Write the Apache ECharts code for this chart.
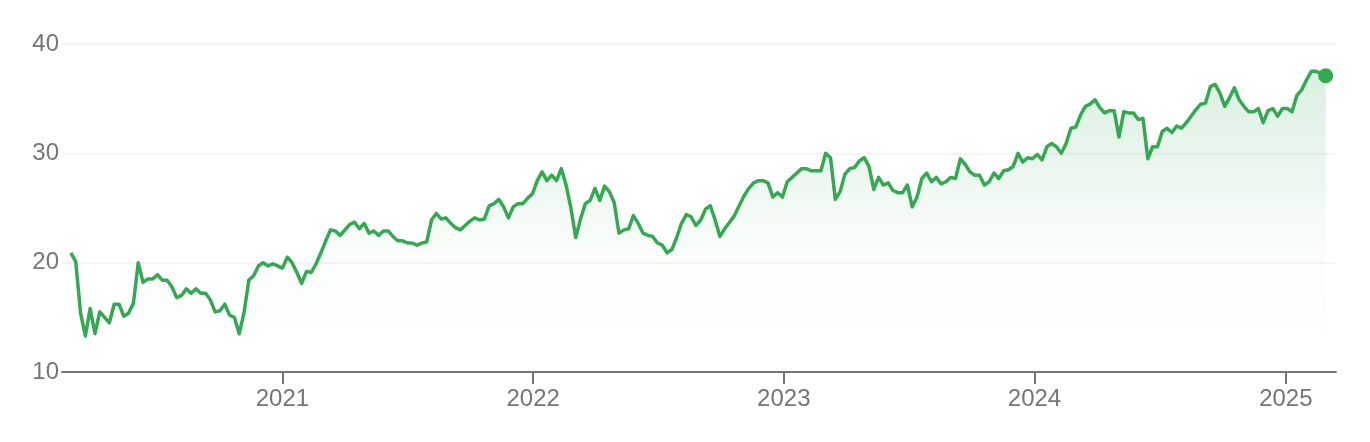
<!DOCTYPE html>
<html>
<head>
<meta charset="utf-8">
<script src="https://cdn.jsdelivr.net/npm/echarts@6/dist/echarts.min.js"></script>
<style>
html,body{margin:0;padding:0;background:#fff;}
#chart{width:1370px;height:442px;}
</style>
</head>
<body>
<div id="chart"></div>
<script>
// Weekly closing values, starting on the first week below
const firstWeek = [2020, 1, 28]; // year, monthIndex, day
const values = [
  20.9, 20.1, 15.4, 13.3, 15.8, 13.5, 15.5, 15.0, 14.5, 16.2,
  16.2, 15.1, 15.4, 16.3, 20.0, 18.2, 18.5, 18.5, 18.9, 18.4,
  18.4, 17.8, 16.8, 17.0, 17.6, 17.2, 17.6, 17.2, 17.2, 16.6,
  15.5, 15.6, 16.2, 15.2, 15.0, 13.5, 15.4, 18.4, 18.8, 19.7,
  20.0, 19.7, 19.9, 19.7, 19.5, 20.5, 20.0, 19.1, 18.1, 19.2,
  19.1, 19.9, 20.9, 22.0, 23.0, 22.9, 22.5, 23.0, 23.5, 23.7,
  23.1, 23.6, 22.7, 22.9, 22.5, 22.9, 22.9, 22.4, 22.0, 22.0,
  21.8, 21.8, 21.6, 21.8, 21.9, 23.9, 24.5, 24.0, 24.1, 23.6,
  23.2, 23.0, 23.4, 23.8, 24.1, 23.9, 24.0, 25.2, 25.4, 25.8,
  25.1, 24.1, 25.1, 25.4, 25.4, 25.9, 26.3, 27.5, 28.3, 27.5,
  28.0, 27.5, 28.6, 27.1, 25.0, 22.3, 24.0, 25.4, 25.7, 26.8,
  25.7, 27.0, 26.5, 25.5, 22.7, 23.0, 23.1, 24.3, 23.6, 22.7,
  22.5, 22.4, 21.8, 21.6, 20.9, 21.2, 22.3, 23.6, 24.4, 24.2,
  23.4, 23.9, 24.9, 25.2, 23.9, 22.4, 23.1, 23.7, 24.3, 25.2,
  26.1, 26.8, 27.3, 27.5, 27.5, 27.3, 26.0, 26.4, 26.0, 27.4,
  27.8, 28.2, 28.6, 28.6, 28.4, 28.4, 28.4, 30.0, 29.6, 25.8,
  26.5, 28.1, 28.6, 28.7, 29.3, 29.6, 28.8, 26.7, 27.8, 27.1,
  27.3, 26.6, 26.4, 26.4, 27.1, 25.1, 26.0, 27.7, 28.2, 27.4,
  27.8, 27.2, 27.4, 27.8, 27.7, 29.5, 29.0, 28.3, 28.0, 28.0,
  27.1, 27.4, 28.2, 27.7, 28.4, 28.5, 28.8, 30.0, 29.2, 29.6,
  29.5, 29.9, 29.4, 30.6, 30.9, 30.6, 30.0, 30.9, 32.3, 32.4,
  33.5, 34.3, 34.5, 34.9, 34.2, 33.7, 33.9, 33.9, 31.5, 33.8,
  33.7, 33.7, 33.1, 33.2, 29.5, 30.6, 30.6, 32.0, 32.3, 31.9,
  32.5, 32.3, 32.8, 33.4, 34.0, 34.5, 34.6, 36.1, 36.3, 35.5,
  34.3, 35.1, 36.0, 34.9, 34.3, 33.8, 33.8, 34.1, 32.8, 33.9,
  34.1, 33.4, 34.1, 34.1, 33.8, 35.3, 35.8, 36.7, 37.5, 37.5,
  37.3, 37.1
];
const tickYears = [2021, 2022, 2023, 2024, 2025];
const yTicks = [10, 20, 30, 40];
const axisStart = [2020, 1, 15];
const axisEnd = [2025, 2, 15];

const DAY = 86400000;
const t0 = new Date(firstWeek[0], firstWeek[1], firstWeek[2]).getTime();
const seriesData = values.map((v, i) => [t0 + i * 7 * DAY, v]);
const lastPoint = seriesData[seriesData.length - 1];
const yearStamps = tickYears.map(y => new Date(y, 0, 1).getTime());

const GREEN = '#34a853';
const GRAY = '#757575';
const FONT = '"Liberation Sans", Arial, Helvetica, sans-serif';

const chart = echarts.init(document.getElementById('chart'), null, {renderer: 'canvas'});
chart.setOption({
  animation: false,
  backgroundColor: '#ffffff',
  grid: {left: 62, right: 34, top: 44, bottom: 70, containLabel: false},
  xAxis: {
    type: 'value',
    min: new Date(axisStart[0], axisStart[1], axisStart[2]).getTime(),
    max: new Date(axisEnd[0], axisEnd[1], axisEnd[2]).getTime(),
    axisLine: {show: true, lineStyle: {color: GRAY, width: 2}},
    axisTick: {show: true, length: 12, lineStyle: {color: GRAY, width: 2}, customValues: yearStamps},
    axisLabel: {
      customValues: yearStamps,
      formatter: v => String(new Date(v).getFullYear()),
      color: GRAY, fontSize: 24, fontFamily: FONT, margin: 15
    },
    splitLine: {show: false}
  },
  yAxis: {
    type: 'value',
    min: yTicks[0], max: yTicks[yTicks.length - 1], interval: 10,
    axisLine: {show: false},
    axisTick: {show: false},
    axisLabel: {color: GRAY, fontSize: 24, fontFamily: FONT, margin: 3},
    splitLine: {show: true, lineStyle: {color: '#f1f1f1', width: 1.5}}
  },
  series: [
    {
      type: 'line',
      data: seriesData,
      showSymbol: false,
      symbol: 'none',
      lineStyle: {color: GREEN, width: 3.5, join: 'round'},
      areaStyle: {
        color: new echarts.graphic.LinearGradient(0, 0, 0, 1, [
          {offset: 0, color: 'rgba(52,168,83,0.26)'},
          {offset: 0.62, color: 'rgba(52,168,83,0.03)'},
          {offset: 1, color: 'rgba(52,168,83,0)'}
        ])
      },
      z: 3
    },
    {
      type: 'scatter',
      data: [lastPoint],
      symbol: 'circle',
      symbolSize: 15,
      itemStyle: {color: GREEN, opacity: 1},
      z: 4
    }
  ]
});
</script>
</body>
</html>
